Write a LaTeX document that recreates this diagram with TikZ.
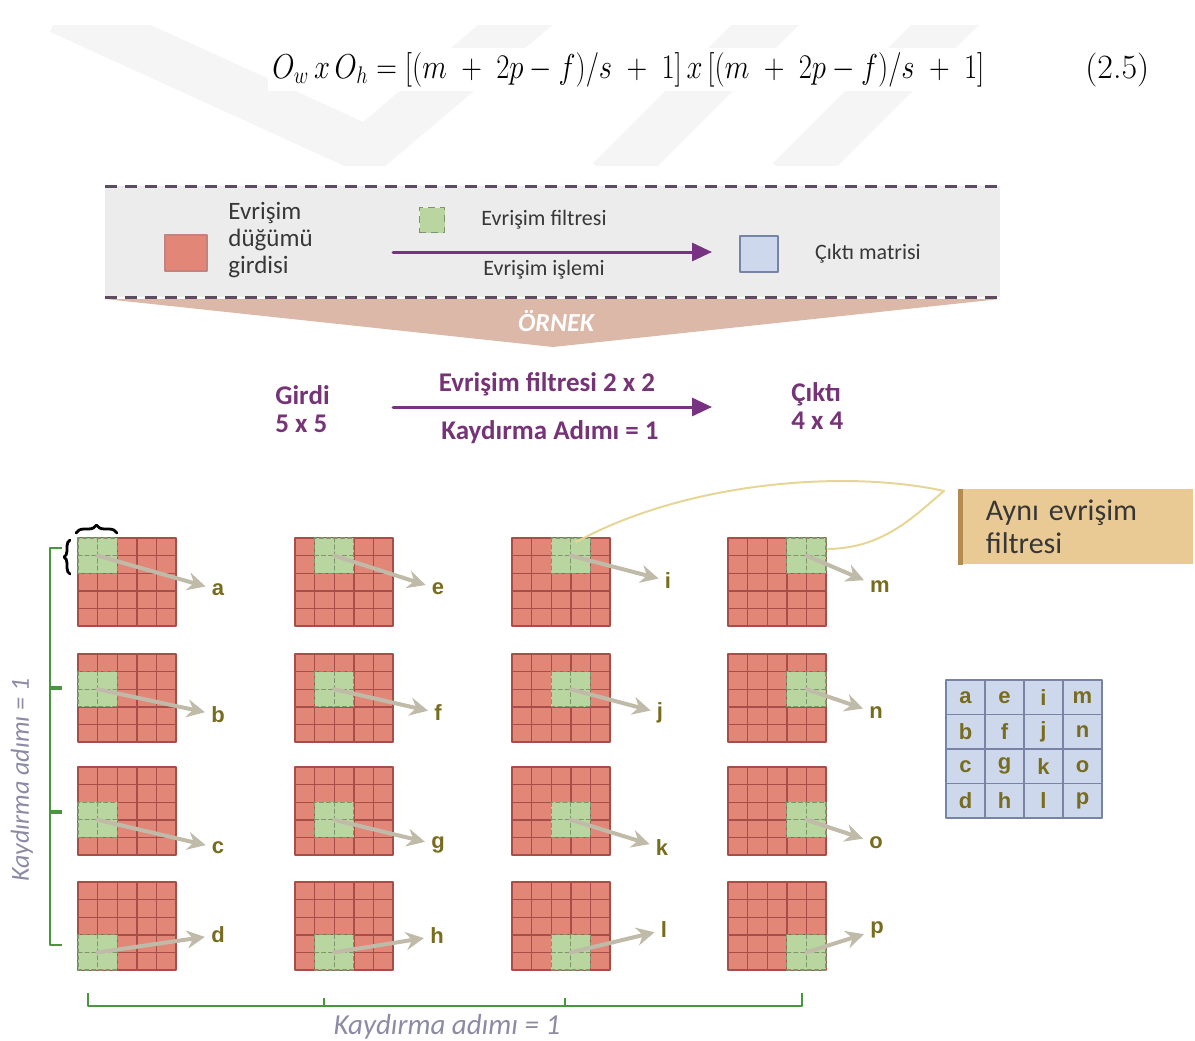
\documentclass[tikz,border=0pt]{standalone}
\usepackage{fontspec}
\newfontfamily\calibri{Carlito}
\newfontfamily\arialfont{Liberation Sans}
\usetikzlibrary{arrows.meta,decorations.pathreplacing}

\definecolor{inred}{RGB}{226,134,120}
\definecolor{inredline}{RGB}{168,78,72}
\definecolor{filtgreen}{RGB}{186,214,160}
\definecolor{filtline}{RGB}{128,148,108}
\definecolor{arrgray}{RGB}{192,186,168}
\definecolor{lettercol}{RGB}{120,108,30}
\definecolor{outblue}{RGB}{206,216,236}
\definecolor{outline}{RGB}{120,132,165}
\definecolor{bandgray}{RGB}{236,236,236}
\definecolor{banddash}{RGB}{92,76,98}
\definecolor{chevron}{RGB}{219,184,168}
\definecolor{oppurple}{RGB}{120,50,130}
\definecolor{expurple}{RGB}{118,52,118}
\definecolor{stepgreen}{RGB}{72,150,62}
\definecolor{steptext}{RGB}{140,138,165}
\definecolor{calltan}{RGB}{233,202,148}
\definecolor{callborder}{RGB}{178,140,80}
\definecolor{callcurve}{RGB}{230,214,150}
\definecolor{legtext}{RGB}{55,55,55}
\definecolor{wmgray}{RGB}{245,245,245}

\tikzset{
  wmark/.style={line width=24pt,wmgray,line cap=butt,line join=miter},
  legtxt/.style={font=\calibri\fontsize{11}{13}\selectfont,text=legtext,inner sep=1pt},
  extxt/.style={font=\calibri\bfseries\fontsize{13.5}{14}\selectfont,text=expurple,inner sep=1pt},
  banddashed/.style={banddash,line width=1.5pt,line cap=butt,dash pattern=on 6pt off 4pt},
  oparrow/.style={->,oppurple,line width=1.5pt},
  inbox/.style={fill=inred,draw=inredline!70,line width=0.6pt,minimum width=21pt,minimum height=18pt,inner sep=0pt},
  filtbox/.style={fill=filtgreen,draw=filtline,dashed,line width=0.6pt,minimum width=12.5pt,minimum height=12.5pt,inner sep=0pt},
  outbox/.style={fill=outblue,draw=outline,line width=0.6pt,minimum width=19pt,minimum height=18pt,inner sep=0pt},
  cellline/.style={inredline,line width=0.7pt},
  filtdash/.style={filtline,line width=0.6pt,dash pattern=on 2pt off 1.5pt},
  slidearrow/.style={-{Stealth[length=9pt,width=9pt,inset=3pt]},arrgray,line width=2pt,shorten >=1pt},
  slideletter/.style={font=\arialfont\bfseries\fontsize{11}{12}\selectfont,text=lettercol,inner sep=2pt},
  stepline/.style={stepgreen,line width=1.4pt,line cap=butt},
  steplabel/.style={font=\calibri\itshape\fontsize{14.5}{16}\selectfont,text=steptext},
  calloutline/.style={callcurve,line width=1pt},
  blackbrace/.style={decorate,decoration={brace,amplitude=4pt},line width=1.4pt}
}

\begin{document}
\begin{tikzpicture}[line cap=round,line join=round,>={Triangle[length=10pt,width=9pt]},x=0.5pt,y=-0.5pt]
\useasboundingbox (0,0) rectangle (1195,1040);

% faint watermark behind the formula
\begin{scope}
  \clip (0,25) rectangle (1195,165);
  \draw[wmark] (60,10) -- (367,150) -- (545,0);
  \draw[wmark] (610,180) -- (790,0);
  \draw[wmark] (790,180) -- (970,0);
\end{scope}

\node[anchor=base west,fill=white,inner sep=2pt,font=\fontsize{18}{22}\selectfont] (eq) at (268,78)
  {\resizebox{356pt}{\height}{$O_w\,x\,O_h = [(m\;+\;2p - f)/s\;+\;1]\,x\,[(m\;+\;2p - f)/s\;+\;1]$}};
\node[anchor=base west,font=\fontsize{17}{22}\selectfont,inner sep=0pt] (eqnum) at (1085,78) {(2.5)};

% legend band
\fill[bandgray] (105,186) rectangle (1000,297);
\fill[chevron] (105,299) -- (1000,299) -- (553,347) -- cycle;
\draw[banddashed] (105,186) -- (1000,186);
\draw[banddashed] (105,297) -- (1000,297);

\node[inbox] (legin) at (186,253) {};
\node[legtxt,anchor=west,align=left,font=\calibri\fontsize{12.5}{13.5}\selectfont] (legintxt) at (226,240) {Evrişim\\düğümü\\girdisi};
\node[filtbox] (legfilt) at (432,220) {};
\node[legtxt] (legfilttxt) at (544,220) {Evrişim filtresi};
\coordinate (opstart) at (393,252);
\coordinate (opend) at (712,252);
\draw[oparrow] (opstart) -- (opend);
\node[legtxt] (legop) at (544,270) {Evrişim işlemi};
\node[outbox] (legout) at (759,254) {};
\node[legtxt] (legouttxt) at (868,254) {Çıktı matrisi};
\node[font=\calibri\bfseries\itshape\fontsize{13}{15}\selectfont,text=white] (ornek) at (556,321) {ÖRNEK};

% example: 5 x 5 input, 2 x 2 filter
\node[extxt,anchor=west,align=left] (girdi) at (273,409) {Girdi\\5 x 5};
\coordinate (exstart) at (393,407);
\coordinate (exend) at (712,407);
\draw[oparrow] (exstart) -- (exend);
\node[extxt] (exfilt) at (547,384) {Evrişim filtresi 2 x 2};
\node[extxt] (exstride) at (550,432) {Kaydırma Adımı = 1};
\node[extxt,anchor=west,align=left] (cikti) at (789,406) {Çıktı\\4 x 4};

% input grids with the sliding filter
\foreach \C/\X in {0/78,1/295,2/512,3/728}{
  \foreach \R/\Y in {0/538,1/654,2/767,3/882}{
    \fill[inred] (\X,\Y) rectangle ++(98,88);
    \foreach \k in {1,...,4}{
      \draw[cellline] (\X+\k*19.6,\Y) -- ++(0,88);
      \draw[cellline] (\X,\Y+\k*17.6) -- ++(98,0);
    }
    \draw[cellline] (\X,\Y) rectangle ++(98,88);
    \fill[filtgreen] (\X+\C*19.6,\Y+\R*17.6) rectangle ++(39.2,35.2);
    \draw[filtdash] (\X+\C*19.6+19.6,\Y+\R*17.6) -- ++(0,35.2);
    \draw[filtdash] (\X+\C*19.6,\Y+\R*17.6+17.6) -- ++(39.2,0);
    \draw[filtdash] (\X+\C*19.6,\Y+\R*17.6) rectangle ++(39.2,35.2);
    \coordinate (f\C\R) at (\X+\C*19.6+19.6,\Y+\R*17.6+17.6);
  }
}

% output matrix
\fill[outblue] (946,680) rectangle (1102,818);
\foreach \k in {1,2,3}{
  \draw[outline,line width=0.8pt] (946+\k*39,680) -- ++(0,138);
  \draw[outline,line width=0.8pt] (946,680+\k*34.5) -- ++(156,0);
}
\draw[outline,line width=0.8pt] (946,680) rectangle (1102,818);

% results and arrows
\foreach \C/\R/\L/\lx/\ly in {0/0/a/218/590,0/1/b/218/715,0/2/c/218/848,0/3/d/218/935,
    1/0/e/438/589,1/1/f/438/713,1/2/g/438/845,1/3/h/437/936,
    2/0/i/668/581,2/1/j/660/713,2/2/k/662/848,2/3/l/664/930,
    3/0/m/880/587,3/1/n/876/713,3/2/o/876/843,3/3/p/877/930}{
  \node[slideletter] (l\L) at (\lx,\ly) {\L};
  \draw[slidearrow] (f\C\R) -- (l\L);
  \node[slideletter] (o\L) at (946+19.5+\C*39,680+17.25+\R*34.5) {\L};
}

% filter size braces
\draw[blackbrace] (76,533) -- (117,533);
\draw[blackbrace,decoration={brace,amplitude=3pt}] (70,574) -- (70,540);

% stride brackets
\draw[stepline] (62,548) -- (50,548) -- (50,945) -- (62,945);
\draw[stepline,line width=2pt] (50,688) -- (62,688);
\draw[stepline,line width=2pt] (50,812) -- (62,812);
\node[steplabel,rotate=90,font=\calibri\itshape\fontsize{13}{15}\selectfont] (vstride) at (22,780) {Kaydırma adımı = 1};
\draw[stepline] (88,993) -- (88,1006) -- (802,1006) -- (802,993);
\draw[stepline] (324,1006) -- (324,998);
\draw[stepline] (565,1006) -- (565,998);
\node[steplabel] (hstride) at (447,1027) {Kaydırma adımı = 1};

% callout
\node[fill=calltan,anchor=north west,minimum width=117.5pt,minimum height=37.5pt,inner xsep=12.5pt,align=left,
  font=\calibri\fontsize{15}{16.5}\selectfont,text=legtext,text width=90pt] (callout) at (958,489) {Aynı evrişim\\filtresi};
\draw[callborder,line width=2.5pt,line cap=butt] ([xshift=1.25pt]callout.north west) -- ([xshift=1.25pt]callout.south west);
\coordinate (callpt) at (944,491);
\coordinate (fi) at (576,542);
\coordinate (fm) at (828,549);
\draw[calloutline] (callpt) .. controls (850,470) and (690,480) .. (fi);
\draw[calloutline] (callpt) .. controls (915,515) and (885,548) .. (fm);
\end{tikzpicture}
\end{document}
